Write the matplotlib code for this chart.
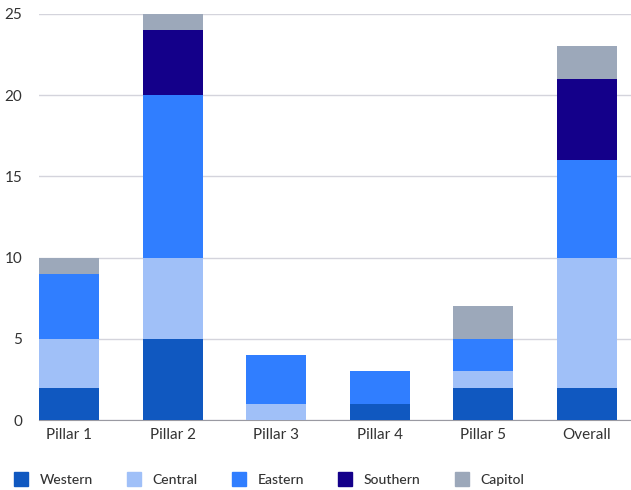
import numpy as np
from matplotlib import pyplot as plt
from matplotlib.patches import Patch

# -----------DATA-----------------
categories = ["Pillar 1", "Pillar 2", "Pillar 3", "Pillar 4", "Pillar 5", "Overall"]
western = [2, 5, 0, 1, 2, 2]
central = [3, 5, 1, 0, 1, 8]
eastern = [4, 10, 3, 2, 2, 6]
southern = [0, 4, 0, 0, 0, 5]
capitol = [1, 1, 0, 0, 2, 2]

series_names = ["Western", "Central", "Eastern", "Southern", "Capitol"]
series_vals = [western, central, eastern, southern, capitol]
colors = ["#1058C0", "#A0C0F8", "#307EFF", "#14008A", "#9CA8BA"]

plt.rcParams["font.family"] = ["Lato", "DejaVu Sans"]

fig = plt.figure(figsize=(6.31, 4.90), dpi=100)
ax = fig.add_axes([39 / 631, 70 / 490, 592 / 631, 406 / 490])

x = np.arange(len(categories))
bottom = np.zeros(len(categories))
for name, vals, c in zip(series_names, series_vals, colors):
    ax.bar(x, vals, width=0.58, bottom=bottom, color=c, label=name, zorder=3)
    bottom += np.array(vals)

ax.set_xlim(-0.29, 5.425)
ax.set_ylim(0, 25)
ax.set_yticks([0, 5, 10, 15, 20, 25])
ax.set_xticks(x)
ax.set_xticklabels(categories)
ax.grid(axis="y", color="#d4d4dc", linewidth=1, zorder=0)
for s in ["top", "right", "left"]:
    ax.spines[s].set_visible(False)
ax.spines["bottom"].set_color("#9a9aa2")
ax.tick_params(axis="both", length=0, labelsize=11, colors="#333333")
ax.tick_params(axis="x", pad=6)
ax.tick_params(axis="y", pad=12)

# legend along the bottom, last entry runs off the right edge like the original
handles = [Patch(color=c, label=n) for n, c in zip(series_names, colors)]
fig.legend(
    handles=handles,
    loc="center left",
    bbox_to_anchor=(4 / 631, 1 - 479 / 490),
    ncol=5,
    frameon=False,
    prop={"size": 10, "weight": "medium"},
    handlelength=1.0,
    handleheight=1.15,
    handletextpad=0.86,
    columnspacing=2.45,
    labelcolor="#333333",
    borderpad=0.2,
)

fig.savefig("out.png", dpi=100)
